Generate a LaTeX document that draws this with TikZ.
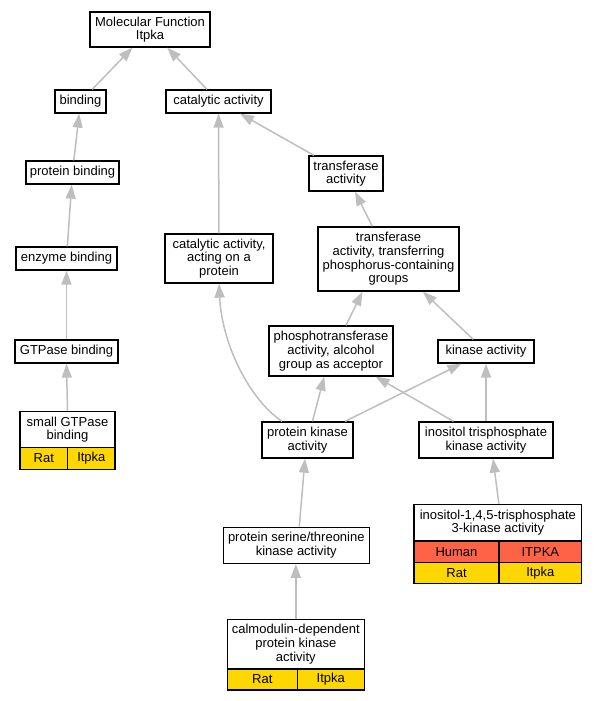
\documentclass[tikz,border=0pt]{standalone}
\usepackage{fontspec}
\setmainfont{Liberation Sans}
\usetikzlibrary{arrows.meta}
\definecolor{edgegray}{HTML}{BEBEBE}
\definecolor{ratgold}{HTML}{FFD700}
\definecolor{humanred}{HTML}{FF6347}
\tikzset{
  term/.style={draw, line width=1.3pt, fill=white, align=center, inner sep=0pt,
    font=\fontsize{13}{13.7}\selectfont},
  cell/.style={term, minimum height=21.5pt},
  isa/.style={draw=edgegray, line width=1.5pt, -{Triangle[length=14pt,width=10pt]}}
}

\begin{document}
\begin{tikzpicture}[x=1pt,y=-1pt]
\useasboundingbox (0,0) rectangle (596,701);

% Terms
\node[term, minimum width=120pt, minimum height=35pt] (mf) at (150,29.5) {Molecular Function\\Itpka};
\node[term, minimum width=51pt, minimum height=23pt] (binding) at (80.5,101.5) {binding};
\node[term, minimum width=105pt, minimum height=23pt] (catalytic) at (218.5,101.5) {catalytic activity};
\node[term, minimum width=93pt, minimum height=23pt] (protbind) at (72.5,172.5) {protein binding};
\node[term, minimum width=74pt, minimum height=35pt] (transf) at (346,173.5) {transferase\\activity};
\node[term, minimum width=101pt, minimum height=23pt] (enzbind) at (66.5,258.5) {enzyme binding};
\node[term, minimum width=108pt, minimum height=49pt] (catprot) at (219,258.5) {catalytic activity,\\acting on a\\protein};
\node[term, minimum width=141pt, minimum height=64pt] (transphos) at (388.5,259) {transferase\\activity, transferring\\phosphorus-containing\\groups};
\node[term, minimum width=103pt, minimum height=23pt] (gtpase) at (66.5,351.5) {GTPase binding};
\node[term, minimum width=124pt, minimum height=50pt] (phospho) at (331,351) {phosphotransferase\\activity, alcohol\\group as acceptor};
\node[term, minimum width=96pt, minimum height=23pt] (kinase) at (486,351.5) {kinase activity};
\node[term, minimum width=91pt, minimum height=36pt] (pk) at (307.5,440) {protein kinase\\activity};
\node[term, minimum width=134pt, minimum height=36pt] (itk) at (486,440) {inositol trisphosphate\\kinase activity};
\node[term, minimum width=146pt, minimum height=36pt] (pst) at (296.3,545.3) {protein serine/threonine\\kinase activity};

% Annotated terms
\node[term, minimum width=95pt, minimum height=36pt] (sgtp) at (67.5,429.7) {small GTPase\\binding};
\node[cell, fill=ratgold, minimum width=47.7pt] (sgtprat) at (43.85,458.5) {Rat};
\node[cell, fill=ratgold, minimum width=47.3pt] (sgtpgene) at (91.35,458.5) {Itpka};

\node[term, minimum width=167.7pt, minimum height=36.7pt] (ik3) at (497.85,522.65) {inositol-1,4,5-trisphosphate\\3-kinase activity};
\node[cell, fill=humanred, minimum width=85pt] (ik3human) at (456.5,551.85) {Human};
\node[cell, fill=humanred, minimum width=82.7pt] (ik3hgene) at (540.35,551.85) {ITPKA};
\node[cell, fill=ratgold, minimum width=85pt, minimum height=20.6pt] (ik3rat) at (456.5,573) {Rat};
\node[cell, fill=ratgold, minimum width=82.7pt, minimum height=20.6pt] (ik3rgene) at (540.35,573) {Itpka};

\node[term, minimum width=137pt, minimum height=49.7pt] (cam) at (295.8,644.15) {calmodulin-dependent\\protein kinase\\activity};
\node[cell, fill=ratgold, minimum width=70pt, minimum height=21pt] (camrat) at (262.3,679.5) {Rat};
\node[cell, fill=ratgold, minimum width=67pt, minimum height=21pt] (camgene) at (330.8,679.5) {Itpka};

% Is-a edges
\draw[isa] (binding) -- (mf);
\draw[isa] (catalytic) -- (mf);
\draw[isa] (protbind) -- (binding);
\draw[isa] (transf) -- (catalytic);
\draw[isa] (catprot) -- (catalytic);
\draw[isa] (enzbind) -- (protbind);
\draw[isa] (transphos) -- (transf);
\draw[isa] (gtpase) -- (enzbind);
\draw[isa] (sgtp.north) -- (gtpase.south);
\draw[isa] ([xshift=15pt]phospho.north) -- ([xshift=-26pt]transphos.south);
\draw[isa] (kinase) -- (transphos);
\draw[isa] ([xshift=-25.5pt]pk.north) .. controls (250,400) and (222,345) .. (catprot.south);
\draw[isa] (pk) -- (phospho);
\draw[isa] (pk) -- (kinase);
\draw[isa] (itk) -- (phospho);
\draw[isa] (itk) -- (kinase);
\draw[isa] ([xshift=1pt]ik3.north) -- ([xshift=7pt]itk.south);
\draw[isa] ([xshift=3pt]pst.north) -- ([xshift=-2.5pt]pk.south);
\draw[isa] (cam.north) -- (cam.north |- pst.south);
\end{tikzpicture}
\end{document}
